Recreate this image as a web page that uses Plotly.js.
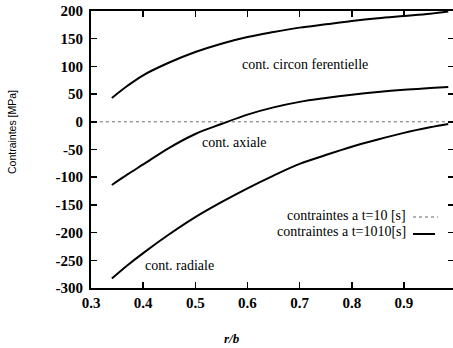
<!DOCTYPE html>
<html>
<head>
<meta charset="utf-8">
<script src="https://cdn.plot.ly/plotly-3.0.1.min.js"></script>
<style>
html,body{margin:0;padding:0;overflow:hidden;background:#fff;}
#chart{width:456px;height:348px;}
</style>
</head>
<body>
<div id="chart"></div>
<script>
// r/b positions (t = 1010 s)
const rb = [0.34, 0.37, 0.40, 0.45, 0.50, 0.55, 0.60, 0.65, 0.70, 0.75, 0.80, 0.85, 0.90, 0.95, 0.985];
// circumferential stress [MPa]
const sigCirc = [43, 65, 84, 107, 126, 141, 153, 162, 170, 176, 182, 187, 191, 195, 199];
// axial stress [MPa]
const sigAxial = [-114, -95, -77, -47, -22, -4, 13, 26, 36, 43, 49, 54, 58, 61, 63];
// radial stress [MPa]
const sigRadial = [-283, -259, -237, -203, -172, -145, -120, -97, -76, -60, -45, -32, -20, -10, -4];
// t = 10 s curve
const rb10 = [0.317, 0.995];
const sig10 = [0, 0];

const xTicks = [0.3, 0.4, 0.5, 0.6, 0.7, 0.8, 0.9];
const yTicks = [200, 150, 100, 50, 0, -50, -100, -150, -200, -250, -300];

const curveLabels = [
  {text: 'cont. circon ferentielle', x: 0.586, y: 103},
  {text: 'cont. axiale', x: 0.509, y: -37},
  {text: 'cont. radiale', x: 0.40, y: -260}
];
const legendLabels = ['contraintes a t=10 [s]', 'contraintes a t=1010[s]'];

// layout helpers (pixel -> paper)
const L = 91, T = 11, W = 363, H = 277;
const px = p => (p - L) / W;
const py = p => (T + H - p) / H;

const serif = 'Liberation Serif';

const traces = [
  {x: rb10, y: sig10, mode: 'lines', line: {color: '#666', width: 1, dash: 'dot'}, showlegend: false, hoverinfo: 'skip'},
  {x: rb, y: sigCirc, mode: 'lines', line: {color: '#000', width: 2, shape: 'spline'}, showlegend: false},
  {x: rb, y: sigAxial, mode: 'lines', line: {color: '#000', width: 2, shape: 'spline'}, showlegend: false},
  {x: rb, y: sigRadial, mode: 'lines', line: {color: '#000', width: 2, shape: 'spline'}, showlegend: false}
];

const annotations = curveLabels.map(c => ({
  text: c.text, x: c.x, y: c.y, xref: 'x', yref: 'y', xanchor: 'left', yanchor: 'middle',
  showarrow: false, font: {family: serif, size: 14, color: '#000'}
}));
annotations.push(
  {text: legendLabels[0], x: px(408), y: py(215), xref: 'paper', yref: 'paper', xanchor: 'right', yanchor: 'middle', showarrow: false, font: {family: serif, size: 14, color: '#000'}},
  {text: legendLabels[1], x: px(408), y: py(231), xref: 'paper', yref: 'paper', xanchor: 'right', yanchor: 'middle', showarrow: false, font: {family: serif, size: 14, color: '#000'}},
  {text: 'Contraintes [MPa]', x: px(12), y: py(132), xref: 'paper', yref: 'paper', xanchor: 'center', yanchor: 'middle', textangle: -90, showarrow: false, font: {family: 'Liberation Sans', size: 10.5, color: '#000'}},
  {text: '<b><i>r/b</i></b>', x: px(232), y: py(338), xref: 'paper', yref: 'paper', xanchor: 'center', yanchor: 'middle', showarrow: false, font: {family: serif, size: 13, color: '#000'}}
);

const shapes = [
  {type: 'line', xref: 'paper', yref: 'paper', x0: px(413), x1: px(438), y0: py(217), y1: py(217), line: {color: '#666', width: 1, dash: 'dot'}},
  {type: 'line', xref: 'paper', yref: 'paper', x0: px(413), x1: px(435), y0: py(234), y1: py(234), line: {color: '#000', width: 2}}
];

const layout = {
  width: 456, height: 348,
  margin: {l: L, r: 456 - L - W, t: T, b: 348 - T - H, pad: 0},
  paper_bgcolor: '#fff', plot_bgcolor: '#fff',
  showlegend: false,
  font: {family: serif, color: '#000'},
  xaxis: {
    range: [0.3, 0.996], tickvals: xTicks, ticktext: xTicks.map(v => v.toFixed(1)),
    ticks: 'inside', ticklen: 6, tickwidth: 1.5, tickcolor: '#000',
    showline: true, linecolor: '#000', linewidth: 2, mirror: 'ticks',
    showgrid: false, zeroline: false,
    tickfont: {family: serif, size: 15, color: '#000', weight: 'bold'}
  },
  yaxis: {
    range: [-300, 200], tickvals: yTicks, ticktext: yTicks.map(String),
    ticks: 'inside', ticklen: 6, tickwidth: 1.5, tickcolor: '#000',
    showline: true, linecolor: '#000', linewidth: 2, mirror: 'ticks',
    showgrid: false, zeroline: false, ticklabelstandoff: 3,
    tickfont: {family: serif, size: 15, color: '#000', weight: 'bold'}
  },
  annotations: annotations,
  shapes: shapes
};

Plotly.newPlot('chart', traces, layout, {staticPlot: true, displayModeBar: false});
</script>
</body>
</html>
